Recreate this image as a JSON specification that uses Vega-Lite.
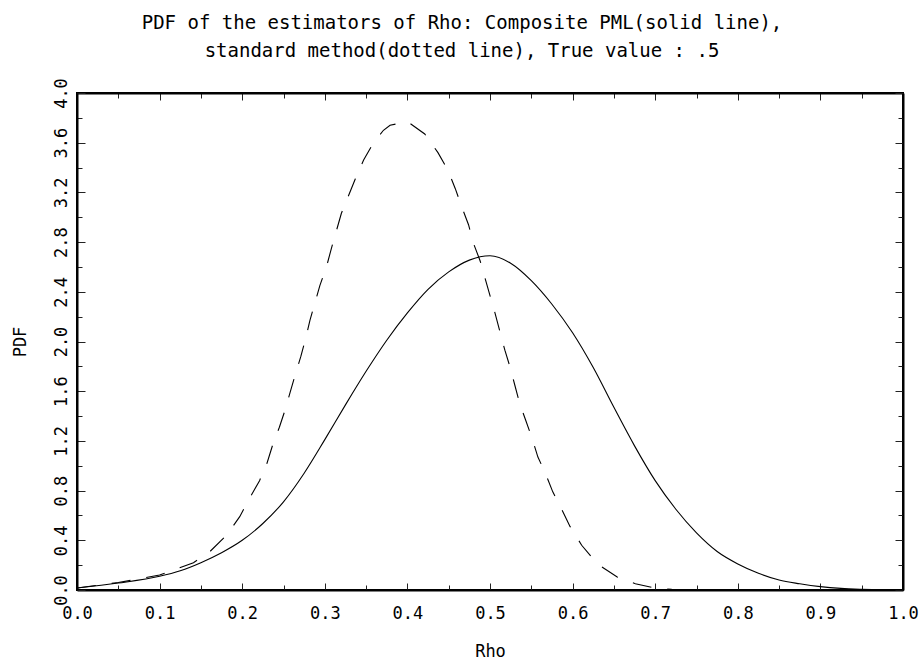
{
  "$schema": "https://vega.github.io/schema/vega-lite/v6.json",
  "autosize": {"type": "none"},
  "padding": {"left": 77, "top": 93, "right": 21, "bottom": 72},
  "width": 826,
  "height": 497,
  "background": "white",
  "config": {
    "view": {"stroke": "black", "strokeWidth": 2},
    "font": "DejaVu Sans Mono",
    "axis": {"domain": true, "domainColor": "black", "domainWidth": 2, "grid": false, "tickColor": "#222", "tickWidth": 1, "labelColor": "black", "titleColor": "black", "labelFont": "DejaVu Sans Mono", "titleFont": "DejaVu Sans Mono", "labelFontSize": 17, "titleFontSize": 17, "titleFontWeight": "normal"}
  },
  "title": {
    "text": ["PDF of the estimators of Rho: Composite PML(solid line),", "standard method(dotted line), True value : .5"],
    "fontSize": 19,
    "fontWeight": "normal",
    "font": "DejaVu Sans Mono",
    "color": "black",
    "lineHeight": 28,
    "anchor": "middle",
    "frame": "group",
    "dx": -28,
    "offset": 17
  },
  "datasets": {
    "pml": [
      {"rho": 0.0, "pdf": 0.016},
      {"rho": 0.05, "pdf": 0.056},
      {"rho": 0.1, "pdf": 0.11},
      {"rho": 0.125, "pdf": 0.155},
      {"rho": 0.15, "pdf": 0.22},
      {"rho": 0.175, "pdf": 0.3},
      {"rho": 0.2, "pdf": 0.4},
      {"rho": 0.225, "pdf": 0.535},
      {"rho": 0.25, "pdf": 0.71},
      {"rho": 0.275, "pdf": 0.94},
      {"rho": 0.3, "pdf": 1.21},
      {"rho": 0.325, "pdf": 1.49},
      {"rho": 0.35, "pdf": 1.76},
      {"rho": 0.375, "pdf": 2.01},
      {"rho": 0.4, "pdf": 2.23},
      {"rho": 0.425, "pdf": 2.42},
      {"rho": 0.45, "pdf": 2.56},
      {"rho": 0.475, "pdf": 2.655},
      {"rho": 0.5, "pdf": 2.69},
      {"rho": 0.525, "pdf": 2.63},
      {"rho": 0.55, "pdf": 2.49},
      {"rho": 0.575, "pdf": 2.3},
      {"rho": 0.6, "pdf": 2.07},
      {"rho": 0.625, "pdf": 1.79},
      {"rho": 0.65, "pdf": 1.47},
      {"rho": 0.675, "pdf": 1.16},
      {"rho": 0.7, "pdf": 0.88},
      {"rho": 0.725, "pdf": 0.65},
      {"rho": 0.75, "pdf": 0.46},
      {"rho": 0.775, "pdf": 0.31},
      {"rho": 0.8, "pdf": 0.21},
      {"rho": 0.825, "pdf": 0.135},
      {"rho": 0.85, "pdf": 0.08},
      {"rho": 0.875, "pdf": 0.05},
      {"rho": 0.9, "pdf": 0.027},
      {"rho": 0.925, "pdf": 0.013},
      {"rho": 0.95, "pdf": 0.006},
      {"rho": 0.975, "pdf": 0.002},
      {"rho": 1.0, "pdf": 0.0}
    ],
    "std": [
      {"rho": 0.0, "pdf": 0.016},
      {"rho": 0.05, "pdf": 0.06},
      {"rho": 0.1, "pdf": 0.12},
      {"rho": 0.141, "pdf": 0.22},
      {"rho": 0.161, "pdf": 0.31},
      {"rho": 0.181, "pdf": 0.44},
      {"rho": 0.197, "pdf": 0.59},
      {"rho": 0.209, "pdf": 0.74},
      {"rho": 0.221, "pdf": 0.88},
      {"rho": 0.23, "pdf": 1.02},
      {"rho": 0.237, "pdf": 1.17},
      {"rho": 0.245, "pdf": 1.31},
      {"rho": 0.252, "pdf": 1.45},
      {"rho": 0.258, "pdf": 1.59},
      {"rho": 0.265, "pdf": 1.75},
      {"rho": 0.271, "pdf": 1.88},
      {"rho": 0.277, "pdf": 2.03},
      {"rho": 0.282, "pdf": 2.17},
      {"rho": 0.294, "pdf": 2.45},
      {"rho": 0.302, "pdf": 2.6},
      {"rho": 0.308, "pdf": 2.75},
      {"rho": 0.32, "pdf": 3.03},
      {"rho": 0.337, "pdf": 3.31},
      {"rho": 0.347, "pdf": 3.46},
      {"rho": 0.359, "pdf": 3.6},
      {"rho": 0.371, "pdf": 3.7},
      {"rho": 0.379, "pdf": 3.74},
      {"rho": 0.4, "pdf": 3.77},
      {"rho": 0.421, "pdf": 3.67},
      {"rho": 0.437, "pdf": 3.52},
      {"rho": 0.449, "pdf": 3.38},
      {"rho": 0.458, "pdf": 3.23},
      {"rho": 0.466, "pdf": 3.08},
      {"rho": 0.474, "pdf": 2.94},
      {"rho": 0.48, "pdf": 2.79},
      {"rho": 0.488, "pdf": 2.65},
      {"rho": 0.494, "pdf": 2.51},
      {"rho": 0.5, "pdf": 2.37},
      {"rho": 0.506, "pdf": 2.23},
      {"rho": 0.512, "pdf": 2.08},
      {"rho": 0.518, "pdf": 1.93},
      {"rho": 0.524, "pdf": 1.8},
      {"rho": 0.53, "pdf": 1.65},
      {"rho": 0.536, "pdf": 1.5},
      {"rho": 0.543, "pdf": 1.37},
      {"rho": 0.551, "pdf": 1.22},
      {"rho": 0.558, "pdf": 1.07},
      {"rho": 0.567, "pdf": 0.94},
      {"rho": 0.576, "pdf": 0.79},
      {"rho": 0.586, "pdf": 0.66},
      {"rho": 0.597, "pdf": 0.51},
      {"rho": 0.611, "pdf": 0.36},
      {"rho": 0.63, "pdf": 0.21},
      {"rho": 0.654, "pdf": 0.105},
      {"rho": 0.676, "pdf": 0.05},
      {"rho": 0.7, "pdf": 0.015},
      {"rho": 0.72, "pdf": 0.005},
      {"rho": 0.75, "pdf": 0.0}
    ]
  },
  "layer": [
    {
      "data": {"name": "pml"},
      "mark": {"type": "line", "color": "black", "strokeWidth": 1.1, "interpolate": "monotone"},
      "encoding": {
        "x": {
          "field": "rho", "type": "quantitative",
          "scale": {"domain": [0, 1], "nice": false, "zero": false},
          "axis": {
            "orient": "bottom",
            "values": [0, 0.05, 0.1, 0.15, 0.2, 0.25, 0.3, 0.35, 0.4, 0.45, 0.5, 0.55, 0.6, 0.65, 0.7, 0.75, 0.8, 0.85, 0.9, 0.95, 1],
            "format": ".1f",
            "labelExpr": "round(datum.value*20)%2==0 ? datum.label : ''",
            "tickSize": {"condition": {"test": "round(datum.value*20)%2==0", "value": -7}, "value": -5},
            "labelPadding": 22,
            "labelFlush": false,
            "labelOverlap": false,
            "title": "Rho",
            "titlePadding": 20
          }
        },
        "y": {
          "field": "pdf", "type": "quantitative",
          "scale": {"domain": [0, 4], "nice": false, "zero": false},
          "axis": {
            "orient": "left",
            "values": [0, 0.2, 0.4, 0.6, 0.8, 1, 1.2, 1.4, 1.6, 1.8, 2, 2.2, 2.4, 2.6, 2.8, 3, 3.2, 3.4, 3.6, 3.8, 4],
            "format": ".1f",
            "labelExpr": "round(datum.value*5)%2==0 ? datum.label : ''",
            "tickSize": {"condition": {"test": "round(datum.value*5)%2==0", "value": -8}, "value": -5},
            "labelAngle": -90,
            "labelAlign": "center",
            "labelBaseline": "bottom",
            "labelPadding": 15,
            "labelFlush": false,
            "labelOverlap": false,
            "title": "PDF",
            "titlePadding": 20
          }
        }
      }
    },
    {
      "data": {"name": "std"},
      "mark": {"type": "line", "color": "black", "strokeWidth": 1.1, "strokeDash": [19, 16]},
      "encoding": {
        "x": {
          "field": "rho", "type": "quantitative",
          "scale": {"domain": [0, 1], "nice": false, "zero": false},
          "axis": {
            "orient": "top",
            "values": [0, 0.05, 0.1, 0.15, 0.2, 0.25, 0.3, 0.35, 0.4, 0.45, 0.5, 0.55, 0.6, 0.65, 0.7, 0.75, 0.8, 0.85, 0.9, 0.95, 1],
            "labels": false,
            "tickSize": {"condition": {"test": "round(datum.value*20)%2==0", "value": -7}, "value": -5},
            "title": null
          }
        },
        "y": {
          "field": "pdf", "type": "quantitative",
          "scale": {"domain": [0, 4], "nice": false, "zero": false},
          "axis": {
            "orient": "right",
            "values": [0, 0.2, 0.4, 0.6, 0.8, 1, 1.2, 1.4, 1.6, 1.8, 2, 2.2, 2.4, 2.6, 2.8, 3, 3.2, 3.4, 3.6, 3.8, 4],
            "labels": false,
            "tickSize": {"condition": {"test": "round(datum.value*5)%2==0", "value": -8}, "value": -5},
            "title": null
          }
        }
      }
    }
  ],
  "resolve": {"axis": {"x": "independent", "y": "independent"}}
}
